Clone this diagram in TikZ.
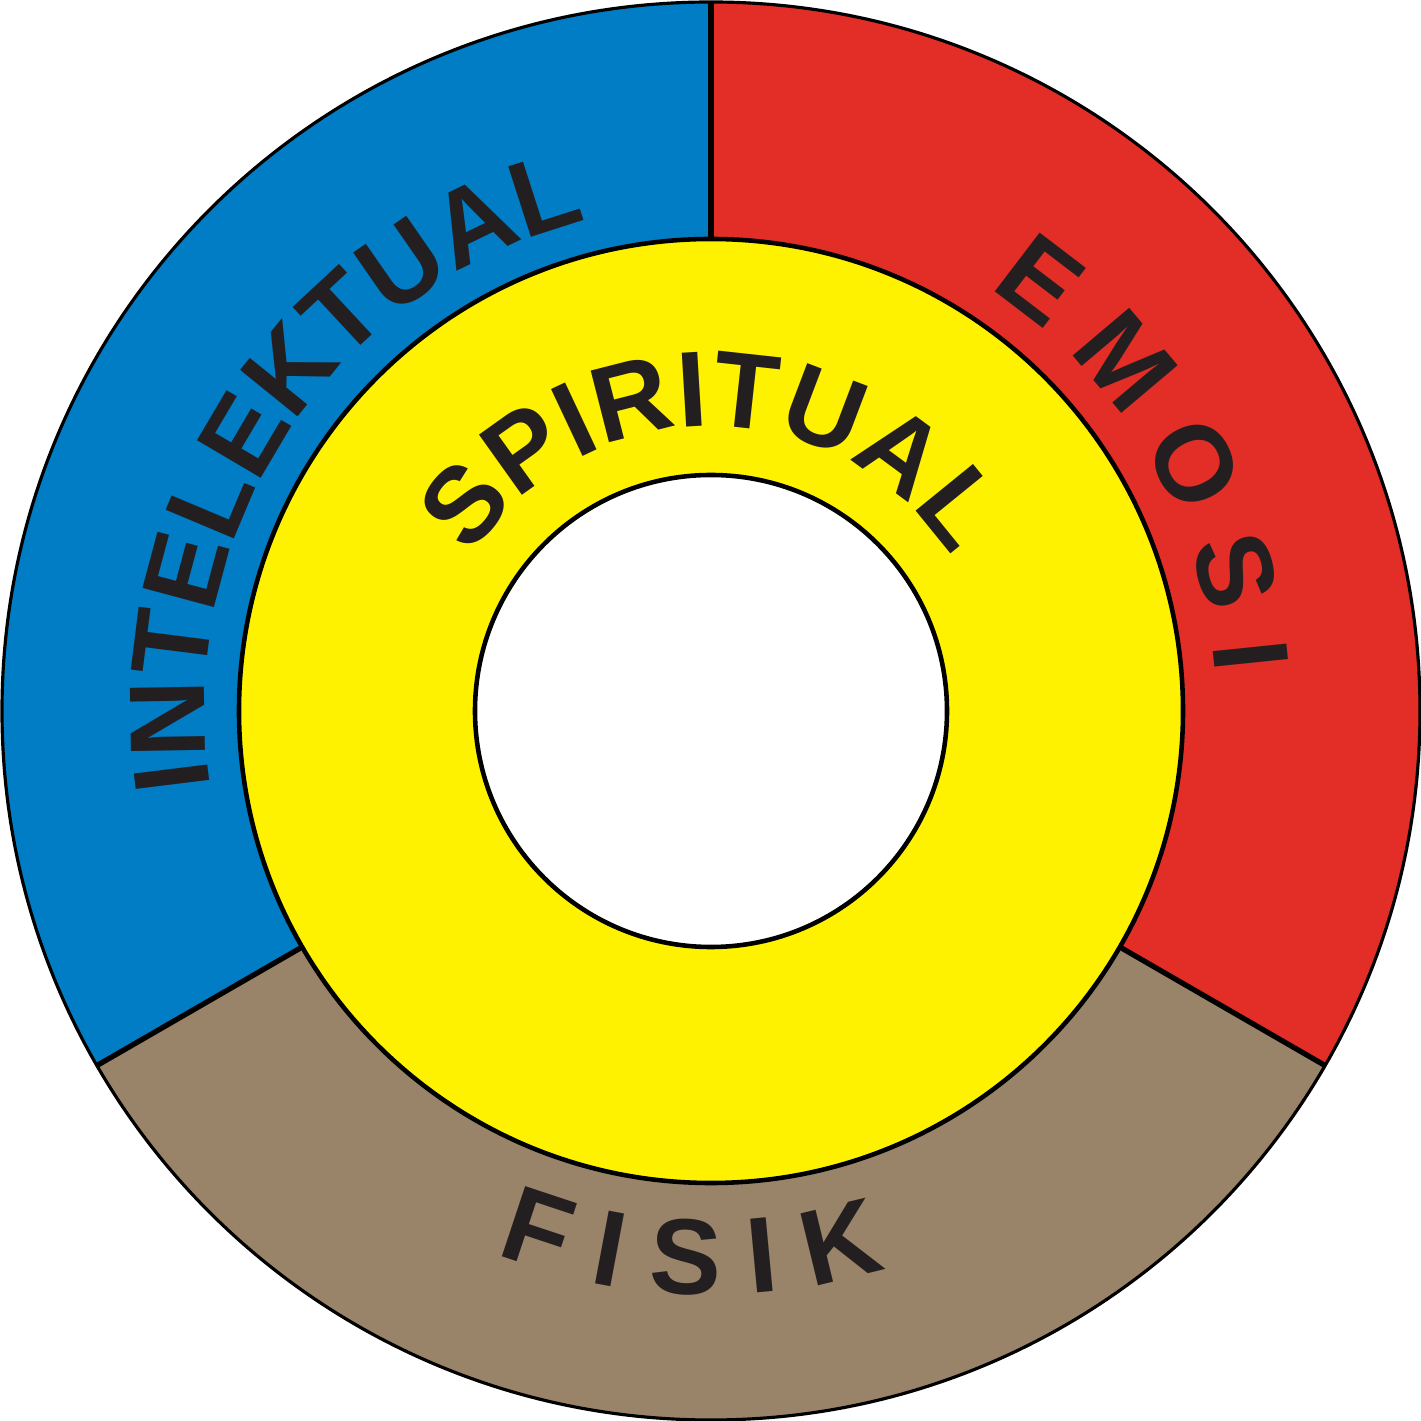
\documentclass[tikz,border=0pt]{standalone}
\usepackage{fontspec}
\usetikzlibrary{decorations.text}
\newfontfamily\ringfont{Liberation Sans}
\newcommand\ringtext{\ringfont\bfseries\fontsize{30.6}{36}\selectfont}
\definecolor{segblue}{RGB}{0,125,196}
\definecolor{segred}{RGB}{226,46,38}
\definecolor{segbrown}{RGB}{153,131,105}
\definecolor{ringyellow}{RGB}{255,242,0}
\definecolor{ink}{RGB}{35,31,32}
\begin{document}
\begin{tikzpicture}
\useasboundingbox (-7.11,-7.10) rectangle (7.10,7.11);
\tikzset{
  outeredge/.style={draw=black, line width=0.9pt},
  edge/.style={draw=black, line width=1.3pt},
  divider/.style={draw=black, line width=1.5pt},
  ringlabel/.style={decorate, decoration={text along path, text align={fit to path}, text color=ink}}
}
% segments
\fill[segblue] (0,0) -- (90:7.09) arc[start angle=90, end angle=210, radius=7.09] -- cycle;
\fill[segred] (0,0) -- (-30:7.09) arc[start angle=-30, end angle=90, radius=7.09] -- cycle;
\fill[segbrown] (0,0) -- (210:7.09) arc[start angle=210, end angle=330, radius=7.09] -- cycle;
\draw[divider] (90:4.7) -- (90:7.09);
\draw[divider] (210:4.7) -- (210:7.09);
\draw[divider] (330:4.7) -- (330:7.09);
\draw[outeredge] (0,0) circle[radius=7.09];
% inner rings
\filldraw[fill=ringyellow, edge] (0,0) circle[radius=4.72];
\filldraw[fill=white, edge] (0,0) circle[radius=2.36];
% labels
\path[ringlabel, decoration={text={|\ringtext|INTELEKTUAL}}]
  (188.7:5.06) arc[start angle=188.7, end angle=104.2, radius=5.06];
\path[ringlabel, decoration={text={|\ringtext|EMOSI}}]
  (56.7:5.06) arc[start angle=56.7, end angle=4.2, radius=5.06];
\path[ringlabel, decoration={text={|\ringtext|FISIK}}]
  (248.4:5.84) arc[start angle=248.4, end angle=287.5, radius=5.84];
\path[ringlabel, decoration={text={|\ringtext|SPIRITUAL}}]
  (147.2:2.85) arc[start angle=147.2, end angle=32.5, radius=2.85];
\end{tikzpicture}
\end{document}
